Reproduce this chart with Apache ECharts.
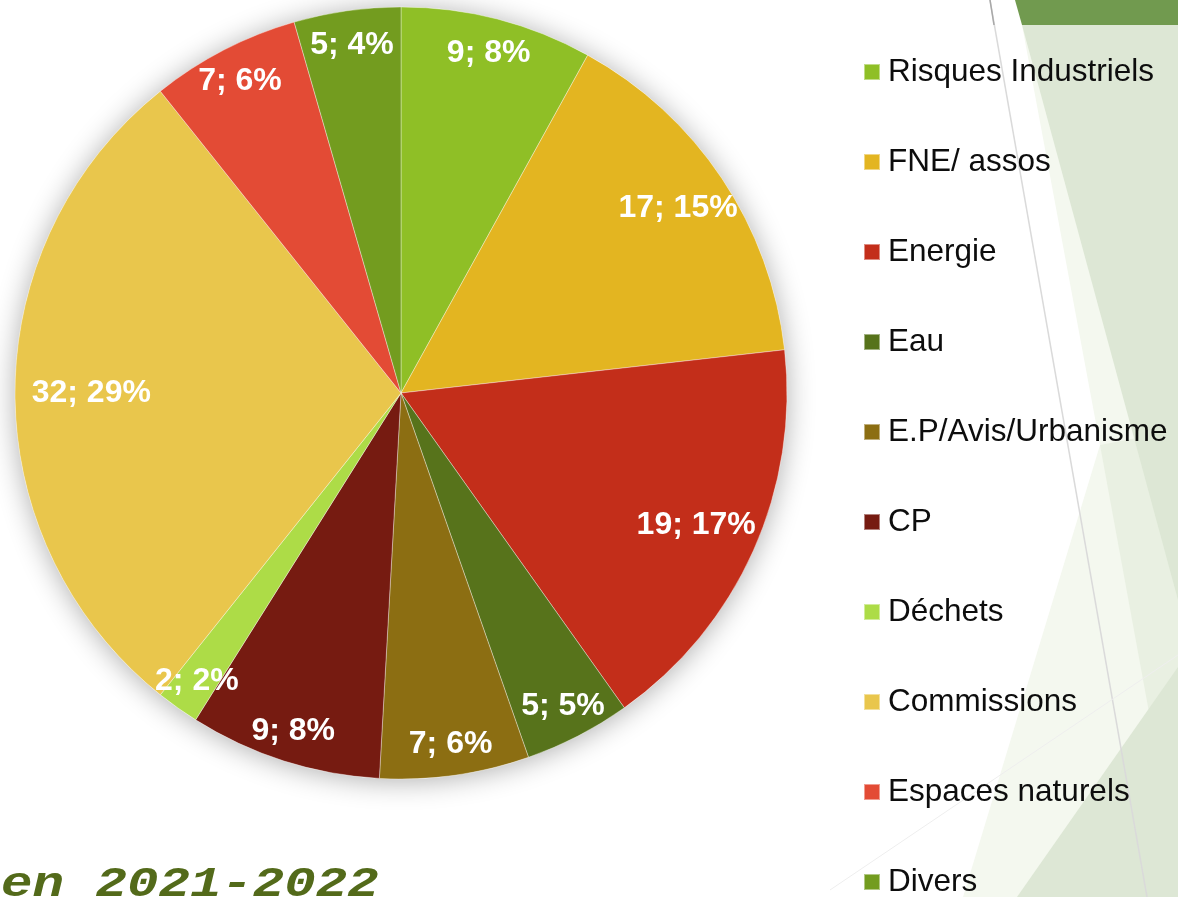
<!DOCTYPE html>
<html>
<head>
<meta charset="utf-8">
<script src="https://cdn.jsdelivr.net/npm/echarts@6/dist/echarts.min.js"></script>
<style>
  html, body { margin: 0; padding: 0; background: #ffffff; }
  #chart { width: 1178px; height: 897px; }
</style>
</head>
<body>
<div id="chart"></div>
<script>
// ---- data ----
const categories = ['Risques Industriels', 'FNE/ assos', 'Energie', 'Eau', 'E.P/Avis/Urbanisme', 'CP', 'Déchets', 'Commissions', 'Espaces naturels', 'Divers'];
const values = [9, 17, 19, 5, 7, 9, 2, 32, 7, 5];
const titleText = 'en 2021-2022';

// ---- style ----
const colors = ['#8FBF26', '#E3B521', '#C32E1A', '#57731B', '#8C6E12', '#761B11', '#ADDC47', '#E9C64C', '#E34B35', '#739C1F'];
const labelRadius = [0.895, 0.85, 0.825, 0.9, 0.905, 0.905, 0.9, 0.79, 0.895, 0.895];
const CX = 401, CY = 393, R = 386;

const chart = echarts.init(document.getElementById('chart'), null, { renderer: 'canvas' });

const bgGraphics = [
  { type: 'polygon', silent: true, z: -10, shape: { points: [[1022, 25], [1100, 445], [963, 897], [1178, 897], [1178, 25]] }, style: { fill: '#F4F8EF' } },
  { type: 'polygon', silent: true, z: -9, shape: { points: [[1100, 445], [1178, 430], [1178, 780], [1155, 745]] }, style: { fill: '#E9F0E2' } },
  { type: 'polygon', silent: true, z: -8, shape: { points: [[1022, 25], [1178, 25], [1178, 600]] }, style: { fill: '#DDE7D5' } },
  { type: 'polygon', silent: true, z: -8, shape: { points: [[1017, 897], [1178, 667], [1178, 897]] }, style: { fill: '#DDE7D5' } },
  { type: 'polygon', silent: true, z: -7, shape: { points: [[1015, 0], [1178, 0], [1178, 25], [1022, 25]] }, style: { fill: '#719A4F' } },
  { type: 'line', silent: true, z: -6, shape: { x1: 990, y1: 0, x2: 1147, y2: 897 }, style: { stroke: '#DADADA', lineWidth: 1.5 } },
  { type: 'line', silent: true, z: -5, shape: { x1: 990, y1: 0, x2: 994, y2: 25 }, style: { stroke: '#A8A8A8', lineWidth: 1.5 } },
  { type: 'line', silent: true, z: -6, shape: { x1: 830, y1: 890, x2: 1178, y2: 655 }, style: { stroke: '#EEEEEE', lineWidth: 1 } },
  { type: 'text', silent: true, z: 10, x: 1, y: 885, scaleX: 1.22, scaleY: 1, originX: 0, originY: 0,
    style: { text: titleText, font: 'italic bold 43px "Liberation Mono", "DejaVu Sans Mono", monospace', fill: '#536A1A', textAlign: 'left', textVerticalAlign: 'middle' } }
];

chart.setOption({
  animation: false,
  backgroundColor: '#ffffff',
  color: colors,
  graphic: bgGraphics,
  legend: {
    orient: 'vertical',
    left: 863,
    top: 56,
    height: 880,
    padding: 0,
    data: categories,
    icon: 'rect',
    itemWidth: 16,
    itemHeight: 16,
    itemGap: 58,
    selectedMode: false,
    textStyle: {
      fontFamily: '"Liberation Sans", Arial, sans-serif',
      fontSize: 31.5,
      lineHeight: 32,
      color: '#0D0D0D',
      padding: [0, 0, 0, 3]
    }
  },
  series: [
    {
      type: 'pie',
      name: 'shadow',
      silent: true,
      center: [CX, CY],
      radius: R,
      z: 1,
      label: { show: false },
      labelLine: { show: false },
      itemStyle: { color: '#ffffff', shadowBlur: 28, shadowColor: 'rgba(0,0,0,0.32)', shadowOffsetX: 0, shadowOffsetY: 2 },
      data: [{ value: 1, name: '__bg__' }]
    },
    {
      type: 'pie',
      name: 'main',
      center: [CX, CY],
      radius: R,
      z: 2,
      startAngle: 90,
      clockwise: true,
      avoidLabelOverlap: false,
      percentPrecision: 0,
      itemStyle: { borderColor: 'rgba(255,255,255,0.45)', borderWidth: 0.8 },
      label: {
        show: true,
        position: 'inside',
        formatter: '{c}; {d}%',
        color: '#ffffff',
        fontFamily: '"Liberation Sans", Arial, sans-serif',
        fontWeight: 'bold',
        fontSize: 32
      },
      labelLine: { show: false },
      labelLayout: function (p) {
        const r = p.labelRect;
        const lx = r.x + r.width / 2, ly = r.y + r.height / 2;
        const s = labelRadius[p.dataIndex] / 0.5;
        return { dx: (lx - CX) * (s - 1), dy: (ly - CY) * (s - 1) };
      },
      data: categories.map((c, i) => ({ name: c, value: values[i] }))
    }
  ]
});
</script>
</body>
</html>
